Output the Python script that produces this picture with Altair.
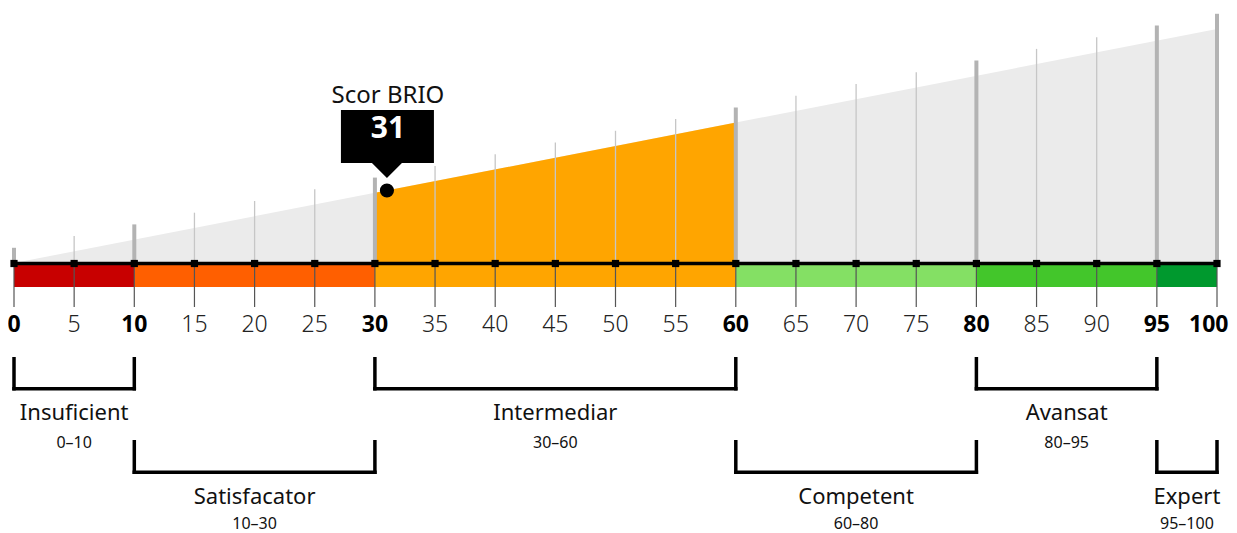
import altair as alt
import pandas as pd

# ---- data ----
cat_names = ["Insuficient", "Satisfacator", "Intermediar", "Competent", "Avansat", "Expert"]
cat_start = [0, 10, 30, 60, 80, 95]
cat_end = [10, 30, 60, 80, 95, 100]
cat_colors = ["#c80000", "#ff5f00", "#ffa500", "#84e064", "#43c62b", "#00992e"]
tick_values = list(range(0, 101, 5))
major_ticks = [0, 10, 30, 60, 80, 95, 100]
score = 31
score_title = "Scor BRIO"
wedge_x = [0, 100]

FONT = "Noto Sans"

cats = pd.DataFrame({"name": cat_names, "start": cat_start, "end": cat_end, "color": cat_colors})
cats["row"] = [i % 2 for i in range(len(cats))]
cats["mid"] = (cats["start"] + cats["end"]) / 2
cats["range"] = [f"{s}–{e}" for s, e in zip(cat_start, cat_end)]

ticks = pd.DataFrame({"v": tick_values})
ticks["major"] = ticks["v"].isin(major_ticks)
ticks["top"] = ticks["v"] + 6.5
ticks["label"] = ticks["v"].astype(str)
vmax = max(tick_values)

wedge = pd.DataFrame({"x": wedge_x, "y": wedge_x})
hl = cats[(cats["start"] <= score) & (cats["end"] > score)].iloc[0]
hl_df = pd.DataFrame({"x": [hl["start"], hl["end"]], "y": [hl["start"], hl["end"]]})
hl_color = hl["color"]

score_df = pd.DataFrame({"score": [score], "title": [score_title], "txt": [str(score)]})
line_df = pd.DataFrame({"a": [min(tick_values)], "b": [vmax]})

xs = alt.Scale(domain=[0, 100], range=[6, 1209])
ys = alt.Scale(domain=[0, 100], range=[255, 21])

base_y0 = 255

wedge_layer = alt.Chart(wedge).mark_area(color="#ebebeb").encode(
    x=alt.X("x:Q", scale=xs, axis=None),
    y=alt.Y("y:Q", scale=ys, axis=None),
    y2=alt.datum(0),
)
hl_layer = alt.Chart(hl_df).mark_area(color=hl_color).encode(
    x=alt.X("x:Q", scale=xs),
    y=alt.Y("y:Q", scale=ys),
    y2=alt.datum(0),
)
minor_up = alt.Chart(ticks).transform_filter("!datum.major").mark_rule(
    color="#c6c6c6", strokeWidth=1.3
).encode(x=alt.X("v:Q", scale=xs), y=alt.Y("top:Q", scale=ys), y2=alt.datum(0))
major_up = alt.Chart(ticks).transform_filter("datum.major").mark_rule(
    color="#b3b3b3", strokeWidth=4
).encode(x=alt.X("v:Q", scale=xs), y=alt.Y("top:Q", scale=ys), y2=alt.datum(0))

band = alt.Chart(cats).mark_rect().encode(
    x=alt.X("start:Q", scale=xs),
    x2="end:Q",
    y=alt.value(base_y0),
    y2=alt.value(279),
    color=alt.Color("name:N", scale=alt.Scale(domain=cat_names, range=cat_colors), legend=None),
)
down_ticks = alt.Chart(ticks).mark_rule(color="#555555", strokeWidth=1.2).encode(
    x=alt.X("v:Q", scale=xs), y=alt.value(base_y0), y2=alt.value(299)
)
baseline = alt.Chart(line_df).mark_rule(color="#000000", strokeWidth=3.5).encode(
    x=alt.X("a:Q", scale=xs), x2="b:Q", y=alt.value(255.5)
)
squares = alt.Chart(ticks).mark_square(color="#000000", size=52, opacity=1).encode(
    x=alt.X("v:Q", scale=xs), y=alt.value(255.5)
)
lab_minor = alt.Chart(ticks).transform_filter("!datum.major").mark_text(
    font=FONT, fontSize=23, fontWeight=300, color="#222222", baseline="middle"
).encode(x=alt.X("v:Q", scale=xs), y=alt.value(317), text="label:N")
lab_major = alt.Chart(ticks).transform_filter(f"datum.major && datum.v < {vmax}").mark_text(
    font=FONT, fontSize=23, fontWeight="bold", color="#000000", baseline="middle"
).encode(x=alt.X("v:Q", scale=xs), y=alt.value(317), text="label:N")
lab_last = alt.Chart(ticks).transform_filter(f"datum.v == {vmax}").mark_text(
    font=FONT, fontSize=23, fontWeight="bold", color="#000000", baseline="middle",
    align="right", dx=11.5
).encode(x=alt.X("v:Q", scale=xs), y=alt.value(317), text="label:N")


def bracket_layers(row, top, bot, name_y, range_y):
    src = alt.Chart(cats).transform_filter(f"datum.row == {row}")
    left = src.mark_rule(color="#000000", strokeWidth=3.5).encode(
        x=alt.X("start:Q", scale=xs), y=alt.value(top), y2=alt.value(bot)
    )
    right = src.mark_rule(color="#000000", strokeWidth=3.5).encode(
        x=alt.X("end:Q", scale=xs), y=alt.value(top), y2=alt.value(bot)
    )
    horiz = src.mark_rule(color="#000000", strokeWidth=3.5, strokeCap="square").encode(
        x=alt.X("start:Q", scale=xs), x2="end:Q", y=alt.value(bot - 1.75)
    )
    name = src.mark_text(font=FONT, fontSize=22, color="#111111", baseline="middle").encode(
        x=alt.X("mid:Q", scale=xs), y=alt.value(name_y), text="name:N"
    )
    rng = src.mark_text(font=FONT, fontSize=16, color="#111111", baseline="middle").encode(
        x=alt.X("mid:Q", scale=xs), y=alt.value(range_y), text="range:N"
    )
    return [left, right, horiz, name, rng]


br0 = bracket_layers(0, 349, 382.5, 405, 435)
br1 = bracket_layers(1, 432, 466, 489, 515.5)

point = alt.Chart(score_df).mark_circle(color="#000000", size=200, opacity=1).encode(
    x=alt.X("score:Q", scale=xs), y=alt.Y("score:Q", scale=ys)
)
box = alt.Chart(score_df).mark_rect(color="#000000", xOffset=-46, x2Offset=47).encode(
    x=alt.X("score:Q", scale=xs), x2="score:Q", y=alt.value(102), y2=alt.value(155)
)
pointer = alt.Chart(score_df).mark_point(
    shape="M-1,-0.5L1,-0.5L0,0.5Z", filled=True, size=900, color="#000000", opacity=1
).encode(x=alt.X("score:Q", scale=xs), y=alt.value(162.5))
score_txt = alt.Chart(score_df).mark_text(
    font=FONT, fontSize=30, fontWeight="bold", color="#ffffff", baseline="middle", dx=1
).encode(x=alt.X("score:Q", scale=xs), y=alt.value(121), text="txt:N")
title_txt = alt.Chart(score_df).mark_text(
    font=FONT, fontSize=24, color="#111111", baseline="middle", dx=1
).encode(x=alt.X("score:Q", scale=xs), y=alt.value(88), text="title:N")

chart = alt.layer(
    wedge_layer, hl_layer, minor_up, major_up, band, down_ticks, baseline, squares,
    lab_minor, lab_major, lab_last, *br0, *br1, point, box, pointer, score_txt, title_txt
).properties(
    width=1221, height=525, padding=0, autosize=alt.AutoSizeParams(type="none")
).configure_view(stroke=None)

chart.save("out.html", embed_options={"renderer": "svg", "actions": False})
